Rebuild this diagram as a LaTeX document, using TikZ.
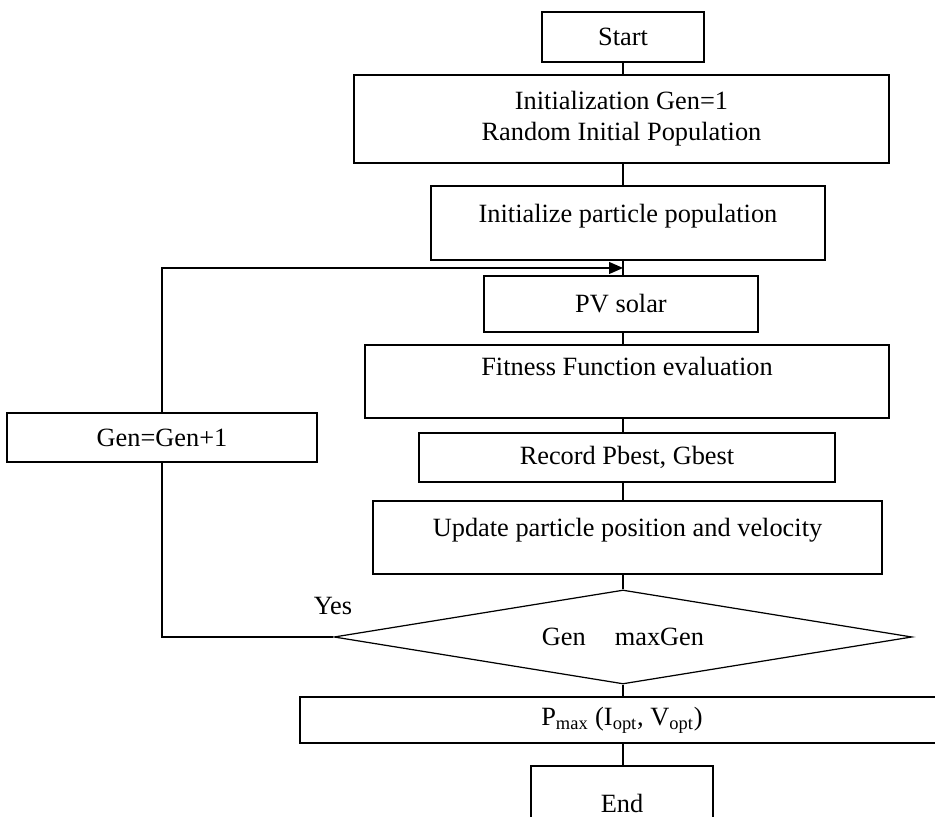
\documentclass[tikz,border=0pt]{standalone}
\usepackage{fontspec}
\setmainfont{Liberation Serif}
\usetikzlibrary{arrows.meta,positioning,shapes.geometric}

\begin{document}
\begin{tikzpicture}[font=\fontsize{15}{17.6}\selectfont,line width=0.7pt,
    stepbox/.style={draw,rectangle,align=center,inner sep=0pt},
    testbox/.style={draw,diamond,aspect=6,inner sep=0pt},
    lift/.style={text depth=#1},
    back/.style={-{Triangle[length=0.28cm,width=0.24cm]}}]
    \clip (0,0) rectangle (18.70,16.34);
    \useasboundingbox (0,0) rectangle (18.70,16.34);
    \coordinate (spine) at (12.46,0);
    \coordinate (join) at (12.46,10.98);
    \node[stepbox,minimum width=3.24cm,minimum height=1.00cm] (start) at (12.46,15.60) {Start};
    \node[stepbox,minimum width=10.70cm,minimum height=1.76cm] (init) at (12.43,13.96) {Initialization Gen=1\\Random Initial Population};
    \node[stepbox,lift=0.40cm,minimum width=7.88cm,minimum height=1.48cm] (particle) at (12.56,11.88) {Initialize particle population};
    \node[stepbox,minimum width=5.48cm,minimum height=1.12cm] (pv) at (12.42,10.26) {PV solar};
    \node[stepbox,lift=0.60cm,minimum width=10.48cm,minimum height=1.46cm] (fitness) at (12.54,8.71) {Fitness Function evaluation};
    \node[stepbox,minimum width=8.32cm,minimum height=0.98cm] (record) at (12.54,7.19) {Record Pbest, Gbest};
    \node[stepbox,lift=0.42cm,minimum width=10.18cm,minimum height=1.46cm] (update) at (12.55,5.59) {Update particle position and velocity};
    \node[testbox,minimum width=11.56cm,minimum height=1.88cm] (test) at (12.46,3.60) {Gen\hspace{1.1em}maxGen};
    \node[stepbox,minimum width=12.88cm,minimum height=0.92cm] (pmax) at (12.44,1.94) {P\textsubscript{max} (I\textsubscript{opt}, V\textsubscript{opt})};
    \node[stepbox,minimum width=3.64cm,minimum height=1.48cm] (end) at (12.44,0.28) {End};
    \node[stepbox,minimum width=6.20cm,minimum height=0.98cm] (gen) at (3.24,7.59) {Gen=Gen+1};
    \node (yes) at (6.66,4.22) {Yes};
    % main flow
    \draw (spine |- start.south) -- (spine |- init.north);
    \draw (spine |- init.south) -- (spine |- particle.north);
    \draw (spine |- particle.south) -- (spine |- pv.north);
    \draw (spine |- pv.south) -- (spine |- fitness.north);
    \draw (spine |- fitness.south) -- (spine |- record.north);
    \draw (spine |- record.south) -- (spine |- update.north);
    \draw (spine |- update.south) -- (test.north);
    \draw (test.south) -- (spine |- pmax.north);
    \draw (spine |- pmax.south) -- (spine |- end.north);
    % loop back
    \draw (test.west) -| (gen.south);
    \draw[back] (gen.north) |- (join);
\end{tikzpicture}
\end{document}
